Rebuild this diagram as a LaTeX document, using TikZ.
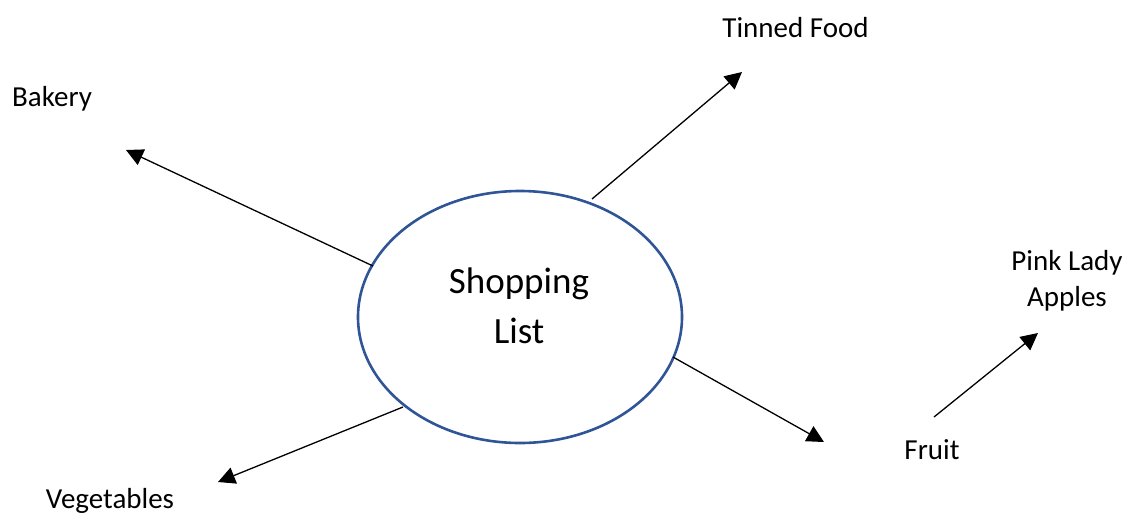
\documentclass[tikz,border=0pt]{standalone}
\usepackage{fontspec}
\setmainfont{Carlito}
\usetikzlibrary{arrows.meta,shapes.geometric}
\definecolor{ellblue}{HTML}{2F5597}
\tikzset{
  lbl/.style={font=\fontsize{29}{36}\selectfont, inner sep=0pt, align=center},
  arr/.style={line width=1.3pt, -{Triangle[length=17pt,width=17pt]}},
}
\begin{document}
\begin{tikzpicture}[x=1pt,y=-1pt]
\useasboundingbox (0,0) rectangle (1133,515);
\node[ellipse, draw=ellblue, line width=2.6pt, minimum width=324pt, minimum height=252pt, inner sep=0pt] (ell) at (520,317) {};
\node[font=\fontsize{37}{50}\selectfont, inner sep=0pt, align=center, anchor=base] (sl) at (519,343) {Shopping\\List};
\node[lbl, anchor=base] (bak) at (52,106) {Bakery};
\node[lbl, anchor=base] (tin) at (795.5,37) {Tinned Food};
\node[lbl, anchor=base] (pla) at (1067,306) {Pink Lady\\Apples};
\node[lbl, anchor=base] (fru) at (932,459) {Fruit};
\node[lbl, anchor=base] (veg) at (110,508) {Vegetables};
\coordinate (s1) at (373,266);
\coordinate (t1) at (126,150);
\coordinate (s2) at (592,199);
\coordinate (t2) at (742,72);
\coordinate (s3) at (673,357);
\coordinate (t3) at (824,442);
\coordinate (s4) at (403,407);
\coordinate (t4) at (218,482);
\coordinate (s5) at (934,417);
\coordinate (t5) at (1038,333);
\draw[arr] (s1) -- (t1);
\draw[arr] (s2) -- (t2);
\draw[arr] (s3) -- (t3);
\draw[arr] (s4) -- (t4);
\draw[arr] (s5) -- (t5);
\end{tikzpicture}
\end{document}
